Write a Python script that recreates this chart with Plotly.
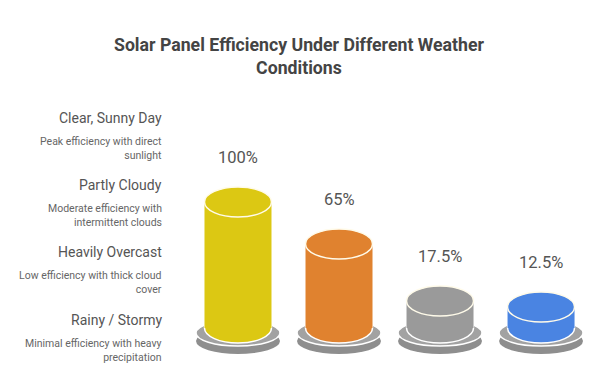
import plotly.graph_objects as go

# ---- data ----
conditions = ["Clear, Sunny Day", "Partly Cloudy", "Heavily Overcast", "Rainy / Stormy"]
descriptions = [
    "Peak efficiency with direct<br>sunlight",
    "Moderate efficiency with<br>intermittent clouds",
    "Low efficiency with thick cloud<br>cover",
    "Minimal efficiency with heavy<br>precipitation",
]
efficiency = [100, 65, 17.5, 12.5]
value_labels = ["100%", "65%", "17.5%", "12.5%"]
colors = ["#DCC813", "#E0822F", "#9A9A9A", "#4A84E2"]

title = "<b>Solar Panel Efficiency Under Different Weather<br>Conditions</b>"

# ---- style constants ----
W, H = 597, 380
FLOOR = -5                 # level of cylinder bottoms (y units)
X_RANGE = [-2.356, 3.554]
Y_RANGE = [-48.3, 268.3]
BAR_W_PX = 67
PX_PER_X = W / (X_RANGE[1] - X_RANGE[0])
RX, RY = BAR_W_PX / 2, 15
PLATE_RX, PLATE_RY = 42, 13
FONT = "Roboto, Arial, sans-serif"
TEXT_RIGHT = 163.5

xs = list(range(len(efficiency)))

fig = go.Figure()
fig.add_trace(go.Bar(
    x=xs,
    y=[v - FLOOR for v in efficiency],
    base=FLOOR,
    width=BAR_W_PX / PX_PER_X,
    marker=dict(color=colors, line=dict(width=0)),
    hoverinfo="skip",
))

shapes = []
for i, v in enumerate(efficiency):
    common = dict(type="circle", xref="x", yref="y", xsizemode="pixel", ysizemode="pixel", xanchor=i)
    # plate rim
    shapes.append(dict(common, yanchor=FLOOR, x0=-PLATE_RX, x1=PLATE_RX,
                       y0=-13 - PLATE_RY, y1=-13 + PLATE_RY,
                       fillcolor="#8E8E8E", line=dict(color="#8E8E8E", width=0), layer="below"))
    # plate top
    shapes.append(dict(common, yanchor=FLOOR, x0=-PLATE_RX, x1=PLATE_RX,
                       y0=-5 - PLATE_RY, y1=-5 + PLATE_RY,
                       fillcolor="#A2A2A2", line=dict(color="white", width=1.5), layer="below"))
    # body bottom
    shapes.append(dict(common, yanchor=FLOOR, x0=-RX, x1=RX, y0=-RY, y1=RY,
                       fillcolor=colors[i], line=dict(color="white", width=1.5), layer="below"))
    # top ellipse
    shapes.append(dict(common, yanchor=v, x0=-RX, x1=RX, y0=-RY, y1=RY,
                       fillcolor=colors[i], line=dict(color="#FFFBEA", width=1.5), layer="above"))

annotations = []
for i, v in enumerate(efficiency):
    annotations.append(dict(x=i, y=v, xref="x", yref="y", yshift=45, text=value_labels[i],
                            showarrow=False, font=dict(family=FONT, size=16.5, color="#555555"),
                            xanchor="center", yanchor="middle"))

head_y = [118, 185, 252, 320]
for k, (c, d) in enumerate(zip(conditions, descriptions)):
    annotations.append(dict(x=TEXT_RIGHT / W, y=1 - head_y[k] / H, xref="paper", yref="paper",
                            text=c, showarrow=False, xanchor="right", yanchor="middle",
                            font=dict(family=FONT, size=14, color="#555555")))
    annotations.append(dict(x=TEXT_RIGHT / W, y=1 - (head_y[k] + 30.5) / H, xref="paper", yref="paper",
                            text=d, showarrow=False, xanchor="right", yanchor="middle", align="right",
                            font=dict(family=FONT, size=10.5, color="#666666")))

annotations.append(dict(x=0.5, y=1 - 56.5 / H, xref="paper", yref="paper", text=title,
                        showarrow=False, xanchor="center", yanchor="middle", align="center",
                        font=dict(family=FONT, size=17.7, color="#444444")))

fig.update_layout(
    width=W, height=H,
    margin=dict(l=0, r=0, t=0, b=0),
    paper_bgcolor="white", plot_bgcolor="white",
    showlegend=False,
    xaxis=dict(range=X_RANGE, visible=False, fixedrange=True),
    yaxis=dict(range=Y_RANGE, visible=False, fixedrange=True),
    shapes=shapes,
    annotations=annotations,
)

fig.write_html("out.html", config={"displayModeBar": False},
               post_script="document.body.style.margin='0';document.body.style.overflow='hidden';")
